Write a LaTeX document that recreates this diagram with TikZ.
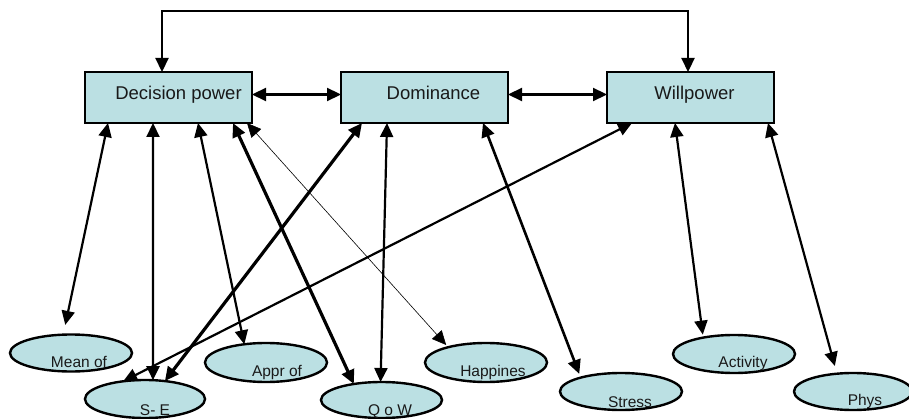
\documentclass[tikz,border=0pt]{standalone}
\usepackage{fontspec}
\setmainfont{Liberation Sans}
\usetikzlibrary{arrows.meta,shapes.geometric}
\definecolor{boxfill}{RGB}{187,224,227}
\definecolor{txt}{RGB}{25,25,25}
\begin{document}
\begin{tikzpicture}[x=1pt,y=-1pt,
  rbox/.style={draw,line width=2.5pt,fill=boxfill,minimum width=167pt,minimum height=51pt,inner sep=0pt,outer sep=0pt},
  ell/.style={draw,ellipse,line width=2.4pt,fill=boxfill,inner sep=0pt,outer sep=0pt},
  btext/.style={anchor=base,font=\fontsize{18.5}{20}\selectfont,text=txt,inner sep=0pt},
  etext/.style={anchor=base,font=\fontsize{15.5}{17}\selectfont,text=txt,inner sep=0pt},
  conn/.style={{Triangle[length=14pt,width=13pt]}-{Triangle[length=14pt,width=13pt]},line width=2.2pt},
  thickconn/.style={conn,line width=3.2pt},
  midconn/.style={conn,line width=2.6pt},
  thinconn/.style={conn,line width=0.6pt}]
\useasboundingbox (0,0) rectangle (909,419);

% boxes
\node[rbox] (dp)  at (168.5,97.5) {};
\node[rbox] (dom) at (424.5,97.5) {};
\node[rbox] (wil) at (690.5,97.5) {};
\node[btext] (dpT)  at (178.5,100) {Decision power};
\node[btext] (domT) at (433.5,100) {Dominance};
\node[btext] (wilT) at (694.5,100) {Willpower};

% ellipses
\node[ell,minimum width=122pt,minimum height=37pt] (mean)   at (71,353)    {};
\node[ell,minimum width=120pt,minimum height=38pt] (se)     at (145,399)   {};
\node[ell,minimum width=122pt,minimum height=39pt] (appr)   at (266,362.5) {};
\node[ell,minimum width=121pt,minimum height=36pt] (qow)    at (381.5,400) {};
\node[ell,minimum width=122pt,minimum height=39pt] (happ)   at (486,362.5) {};
\node[ell,minimum width=122pt,minimum height=37pt] (stress) at (621,391.5) {};
\node[ell,minimum width=122pt,minimum height=38pt] (act)    at (734,354)   {};
\node[ell,minimum width=118pt,minimum height=37pt] (phys)   at (853,391.5) {};

\node[etext] (meanT)   at (79,367)  {Mean of};
\node[etext] (seT)     at (155,415) {S- E};
\node[etext] (apprT)   at (277,376) {Appr of};
\node[etext] (qowT)    at (390,415) {Q o W};
\node[etext] (happT)   at (493,376) {Happines};
\node[etext] (actT)    at (743,367) {Activity};
\node[etext] (stressT) at (630,407) {Stress};
\node[etext] (physT)   at (865,405) {Phys};

% top connector
\draw[conn] ([shift={(-6.5,0)}]dp.north) -- ++(0,-61) -| ([shift={(-2.5,0)}]wil.north);

% horizontal connectors
\draw[conn] ([shift={(0,-3)}]dp.east) -- ([shift={(0,-3)}]dom.west);
\draw[conn] ([shift={(0,-3)}]dom.east) -- ([shift={(0,-3)}]wil.west);

% from Decision power
\draw[conn, shorten >=10pt] ([shift={(-60.5,0)}]dp.south) -- (mean.113);
\draw[conn] ([shift={(-15.5,0)}]dp.south) -- (se.67);
\draw[conn] ([shift={(29.5,0)}]dp.south) -- (appr.140);
\draw[thickconn] ([shift={(64.5,0)}]dp.south) -- (qow.150);
\draw[thinconn, shorten >=3pt] ([shift={(78.5,0)}]dp.south) -- (happ.158);

% from Dominance
\draw[thickconn] ([shift={(-62.5,0)}]dom.south) -- (se.42);
\draw[conn] ([shift={(-37.5,0)}]dom.south) -- (qow.93);
\draw[midconn, shorten >=4pt] ([shift={(58.5,0)}]dom.south) -- (stress.161);

% from Willpower
\draw[conn] ([shift={(-58.5,0)}]wil.south) -- (se.141);
\draw[conn, shorten >=3pt] ([shift={(-15.5,0)}]wil.south) -- (act.152);
\draw[conn, shorten >=8pt] ([shift={(77.5,0)}]wil.south) -- (phys.132);
\end{tikzpicture}
\end{document}
